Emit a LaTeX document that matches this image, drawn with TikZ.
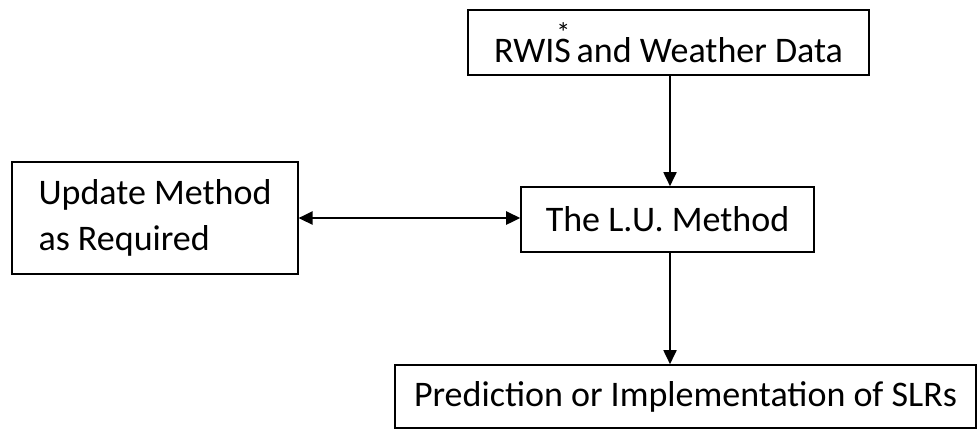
\documentclass[tikz,border=0pt]{standalone}
\usepackage{fontspec}
\setmainfont{Carlito}
\usetikzlibrary{arrows.meta, positioning}
\tikzstyle{block} = [draw, line width=0.8pt, inner sep=0pt, align=left]

\begin{document}
\begin{tikzpicture}[x=0.5pt, y=-0.5pt, >={Triangle[length=7pt, width=6.5pt]}, line width=0.9pt, font=\fontsize{18}{23}\selectfont]

  \useasboundingbox (0,0) rectangle (978,429);

  \node[block, minimum width=200.5pt, minimum height=32.5pt] (RW) at (668.5,42.5) {RWIS\llap{\raisebox{10pt}{\fontsize{14}{14}\selectfont *}\kern0.02em}\hspace{0.16em}and Weather Data};
  \node[block, minimum width=146.5pt, minimum height=32.5pt] (LU) at (667.5,219.5) {The L.U. Method};
  \node[block, minimum width=142.75pt, minimum height=56pt] (UP) at (155,218) {Update Method\\as Required};
  \node[block, minimum width=290.5pt, minimum height=31.5pt] (PR) at (685.5,396.5) {Prediction or Implementation of SLRs};

  \coordinate (axis) at (670,0);

  \draw[->] (RW.south -| axis) -- (LU.north -| axis);

  \draw[<->, line width=1.3pt] (UP.east) -- (UP.east -| LU.west);

  \draw[->] (LU.south -| axis) -- (PR.north -| axis);

\end{tikzpicture}
\end{document}
